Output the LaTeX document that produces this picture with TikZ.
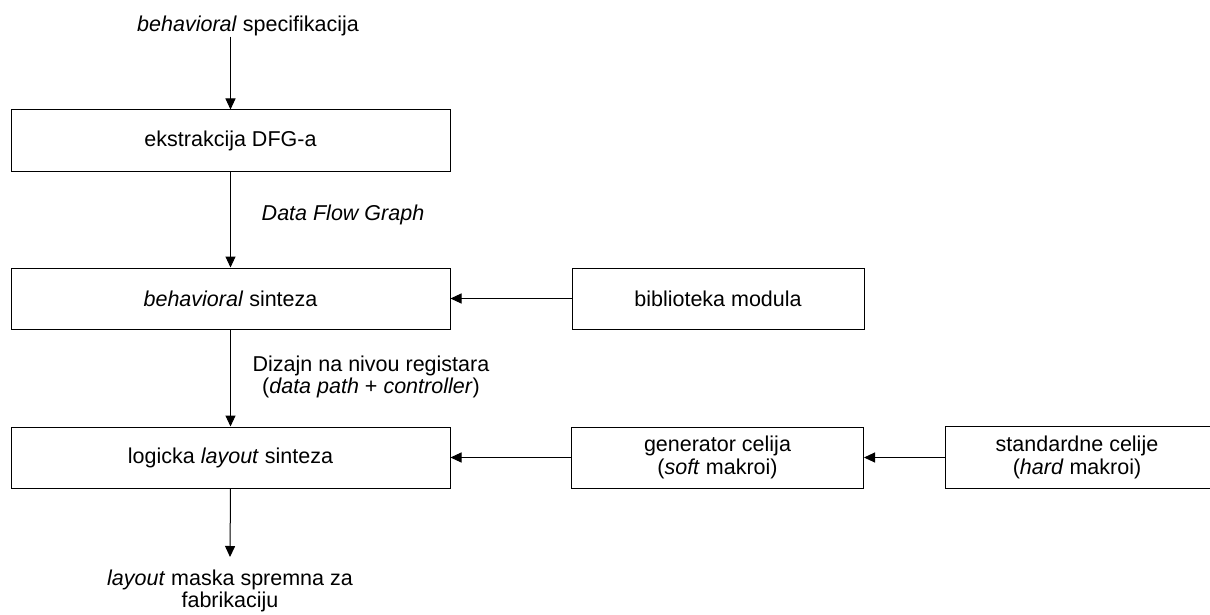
\documentclass[tikz,border=0pt]{standalone}
\usepackage{fontspec}
\setmainfont{Liberation Sans}
\usetikzlibrary{arrows.meta}
% type sizes: box labels and the free-standing notes
\newcommand\boxfont{\fontsize{21.5pt}{23pt}\selectfont}
\newcommand\notefont{\fontsize{21.5pt}{22pt}\selectfont\lineskiplimit=-100pt\relax}
\begin{document}
\begin{tikzpicture}[x=1pt,y=-1pt,
  stage/.style={draw=black, line width=1pt, rectangle, inner sep=0pt,
    minimum width=439pt, minimum height=61pt, align=center, font=\boxfont},
  source/.style={stage, minimum width=292pt},
  frame/.style={draw=black, line width=1pt},
  note/.style={inner sep=0pt, align=center, font=\notefont},
  flow/.style={draw=black, line width=1pt,
    -{Triangle[length=11pt,width=10pt]}}
]
\useasboundingbox (0,0) rectangle (1210,615);

% main synthesis chain
\node[stage] (dfg)  at (230.5,140.5) {ekstrakcija DFG-a};
\node[stage] (beh)  at (230.5,298.5) {\textit{behavioral} sinteza};
\node[stage] (logic) at (230.5,457.5) {logicka \textit{layout} sinteza};

% libraries feeding the chain
\node[source] (lib) at (718,298.5) {biblioteka modula};
\node[source] (gen) at (717.5,457.5) {generator celija\\(\textit{soft} makroi)};
% this box runs off the right edge of the sheet: no right side
\node[source, draw=none, minimum width=262pt] (std) at (1077,457.5)
  {standardne celije\\(\textit{hard} makroi)};
\draw[frame] ([xshift=60pt]std.north east) -- (std.north west)
  -- (std.south west) -- ([xshift=60pt]std.south east);

% input, intermediate results and output (base = last line)
\node[note, anchor=base] (spec) at (248,32) {\textit{behavioral} specifikacija};
\node[note, anchor=base] (dfgl) at (343,220) {\textit{Data Flow Graph}};
\node[note, anchor=base] (rtl) at (371,393)
  {Dizajn na nivou registara\\(\textit{data path} + \textit{controller})};
\node[note, anchor=base] (mask) at (230,607.5)
  {\textit{layout} maska spremna za\\fabrikaciju};
\coordinate (maskin) at (230,557);

% connectors
\draw[flow] (spec.south -| dfg.north) -- (dfg.north);
\draw[flow] (dfg) -- (beh);
\draw[flow] (beh) -- (logic);
\draw[flow] (logic.south) -- (maskin);
\draw[flow] (lib) -- (beh);
\draw[flow] (gen) -- (logic);
\draw[flow] (std) -- (gen);
\end{tikzpicture}
\end{document}
